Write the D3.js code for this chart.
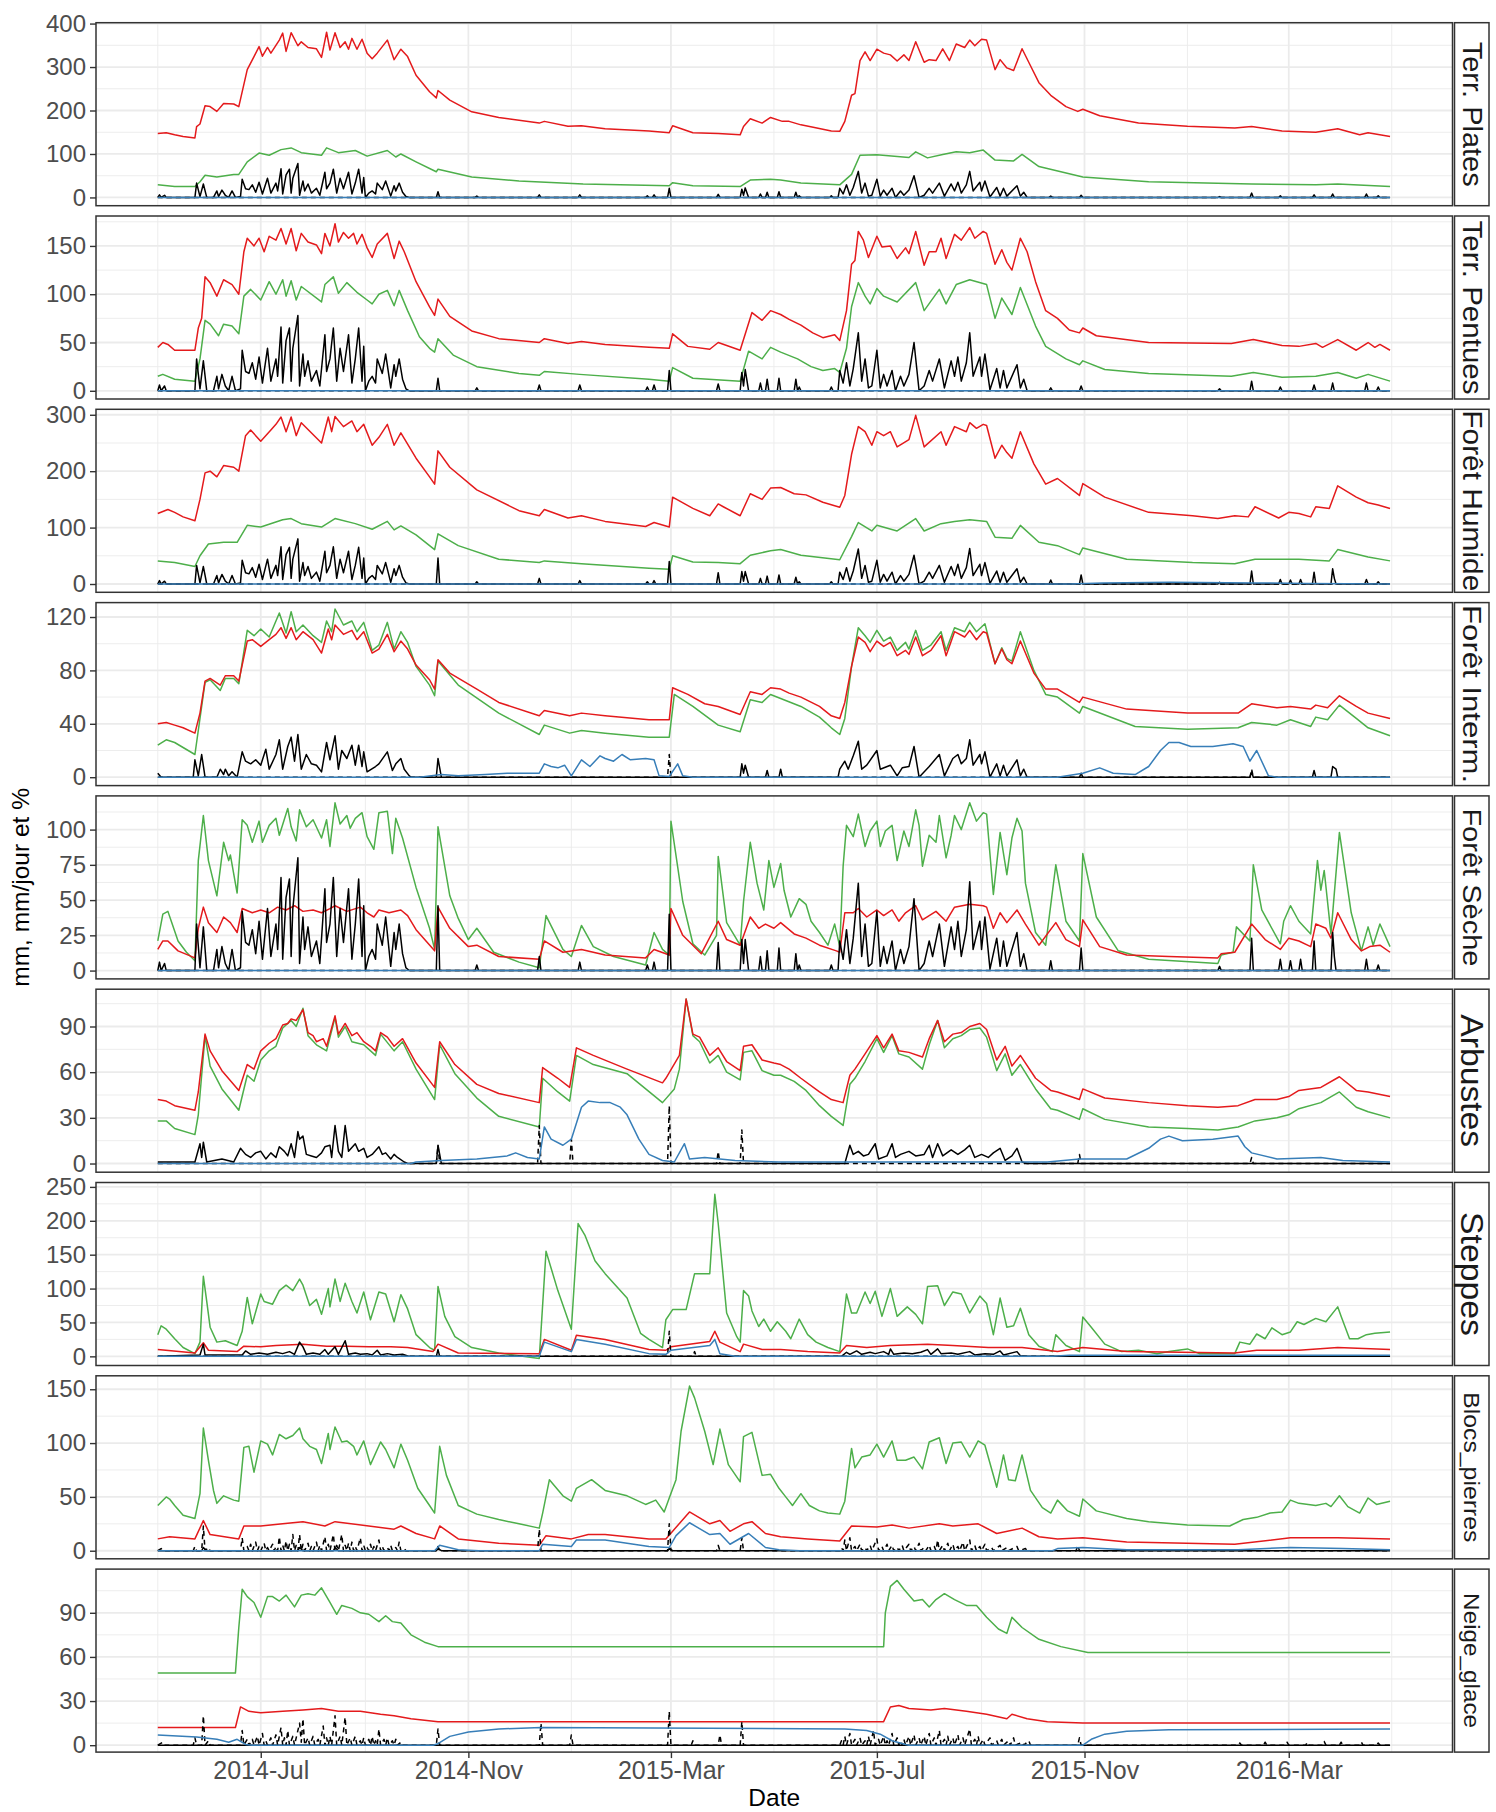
<!DOCTYPE html>
<html>
<head>
<meta charset="utf-8">
<script src="https://cdn.jsdelivr.net/npm/d3@7"></script>
<style>
body { margin: 0; background: #fff; }
text { font-family: "Liberation Sans", Arial, sans-serif; }
</style>
</head>
<body>
<div id="chart"></div>
<script>
// ---------- données (jour depuis le 2014-05-01, valeur) ----------
const facettes = ["Terr. Plates", "Terr. Pentues", "Forêt Humide", "Forêt Interm.", "Forêt Sèche", "Arbustes", "Steppes", "Blocs_pierres", "Neige_glace"]
const yTicks = [[0,100,200,300,400],[0,50,100,150],[0,100,200,300],[0,40,80,120],[0,25,50,75,100],[0,30,60,90],[0,50,100,150,200,250],[0,50,100,150],[0,30,60,90]]
const xTicks = ["2014-07-01","2014-11-01","2015-03-01","2015-07-01","2015-11-01","2016-03-01"]
const xMineurs = ["2014-05-01","2014-09-01","2015-01-01","2015-05-01","2015-09-01","2016-01-01","2016-05-01"]

const zero = [[0,0],[730,0]]

const pluie = [[0,0],[1,6],[2,0],[4,5],[5,0],[22,0],[23,33],[25,2],[27,31],[29,0],[33,0],[35,15],[36,2],[38,17],[40,5],[42,0],[44,15],[46,0],[49,2],[50,42],[52,20],[54,18],[56,29],[58,12],[60,35],[62,8],[65,44],[67,10],[70,33],[71,15],[73,66],[74,8],[76,52],[78,65],[79,10],[80,44],[83,78],[84,5],[86,38],[87,15],[89,31],[91,10],[94,21],[96,5],[99,58],[100,20],[102,33],[104,65],[106,10],[108,44],[110,20],[113,58],[115,8],[117,33],[119,65],[121,10],[122,46],[123,0],[125,10],[127,15],[129,8],[130,33],[133,18],[135,38],[138,3],[140,27],[141,15],[143,33],[145,12],[147,2],[149,0],[165,0],[166,13],[167,0],[188,0],[189,3],[190,0],[225,0],[226,6],[227,0],[249,0],[250,6],[251,0],[289,0],[290,4],[291,0],[293,0],[294,6],[295,0],[302,0],[303,21],[304,0],[331,0],[332,7],[333,0],[345,0],[346,19],[347,5],[348,22],[350,0],[356,0],[357,8],[358,0],[360,0],[361,12],[362,0],[367,0],[368,13],[369,0],[377,0],[378,12],[379,0],[380,4],[381,0],[398,0],[399,4],[400,0],[403,0],[404,21],[406,8],[408,29],[410,5],[412,23],[415,60],[417,10],[419,33],[421,3],[423,5],[426,42],[428,3],[430,17],[432,5],[435,21],[437,0],[440,15],[442,5],[445,17],[448,50],[451,0],[454,5],[457,21],[459,10],[463,33],[466,3],[470,31],[472,15],[474,35],[476,10],[479,29],[481,60],[483,15],[487,35],[488,15],[490,38],[493,1],[497,23],[499,3],[501,21],[503,3],[509,27],[511,3],[513,12],[515,0],[528,0],[529,3],[530,0],[546,0],[547,5],[548,0],[628,0],[629,2],[630,0],[647,0],[648,10],[649,0],[664,0],[665,4],[666,0],[684,0],[685,6],[686,0],[695,0],[696,8],[697,0],[715,0],[716,8],[717,0],[722,0],[723,4],[724,0],[730,0]]

const pluieForet = [[0,0],[1,6],[2,0],[4,5],[5,0],[22,0],[23,33],[25,2],[27,31],[29,0],[33,0],[35,15],[36,2],[38,17],[40,5],[42,0],[44,15],[46,0],[49,2],[50,42],[52,20],[54,18],[56,29],[58,12],[60,35],[62,8],[65,44],[67,10],[70,33],[71,15],[73,66],[74,8],[76,52],[78,65],[79,10],[80,44],[83,80],[84,5],[86,38],[87,15],[89,31],[91,10],[94,21],[96,5],[99,58],[100,20],[102,33],[104,66],[106,10],[108,44],[110,20],[113,58],[115,8],[117,33],[119,65],[121,10],[122,46],[123,0],[125,10],[127,15],[129,8],[130,33],[133,18],[135,38],[138,3],[140,27],[141,15],[143,33],[145,12],[147,2],[149,0],[165,0],[166,46],[167,0],[188,0],[189,4],[190,0],[225,0],[226,10],[227,0],[249,0],[250,6],[251,0],[289,0],[290,4],[291,0],[293,0],[294,6],[295,0],[302,0],[303,40],[304,0],[331,0],[332,20],[333,0],[345,0],[346,22],[347,5],[348,22],[350,0],[356,0],[357,10],[358,0],[360,0],[361,14],[362,0],[367,0],[368,16],[369,0],[377,0],[378,12],[379,0],[380,4],[381,0],[398,0],[399,4],[400,0],[403,0],[404,21],[406,8],[408,29],[410,5],[412,23],[415,62],[417,10],[419,33],[421,3],[423,5],[426,42],[428,3],[430,17],[432,5],[435,21],[437,0],[440,15],[442,5],[445,17],[448,51],[451,0],[454,5],[457,21],[459,10],[463,33],[466,3],[470,31],[472,15],[474,35],[476,10],[479,29],[481,63],[483,15],[487,35],[488,15],[490,38],[493,1],[497,23],[499,3],[501,21],[503,3],[509,27],[511,3],[513,12],[515,0],[528,0],[529,7],[530,0],[546,0],[547,16],[548,0],[628,0],[629,3],[630,0],[647,0],[648,23],[649,0],[664,0],[665,8],[666,0],[670,0],[671,7],[672,0],[676,0],[677,8],[678,0],[684,0],[685,21],[686,0],[695,0],[696,27],[697,10],[698,0],[715,0],[716,8],[717,0],[722,0],[723,4],[724,0],[730,0]]

const platesRouge = [[0,147],[5,149],[10,144],[15,140],[22,137],[23,163],[25,169],[28,211],[31,209],[35,198],[39,216],[45,215],[48,209],[53,294],[57,324],[60,347],[62,325],[65,345],[67,332],[72,362],[74,378],[76,336],[79,379],[83,349],[85,358],[89,345],[94,342],[97,322],[100,380],[102,339],[105,379],[108,345],[111,358],[113,341],[115,366],[118,341],[121,364],[124,332],[127,319],[130,332],[136,362],[140,317],[144,341],[148,324],[153,281],[161,243],[165,229],[166,246],[173,224],[186,197],[202,184],[226,171],[229,175],[243,164],[251,165],[265,158],[291,153],[303,149],[305,165],[317,149],[332,147],[345,144],[347,163],[351,181],[358,171],[363,184],[370,175],[374,175],[381,167],[389,161],[399,153],[404,152],[407,175],[411,235],[413,239],[416,315],[419,335],[422,315],[426,341],[430,332],[434,328],[438,314],[442,328],[445,315],[449,358],[454,311],[457,317],[461,315],[465,342],[469,315],[473,353],[478,345],[481,362],[484,349],[488,364],[491,362],[496,294],[499,317],[503,298],[507,292],[512,342],[517,303],[522,264],[529,235],[538,209],[545,198],[548,203],[558,188],[581,171],[610,164],[638,160],[648,163],[666,153],[686,150],[699,158],[712,144],[717,149],[730,140]]
const platesVert = [[0,29],[10,25],[22,25],[25,36],[28,51],[35,47],[45,53],[48,53],[53,82],[60,102],[66,97],[73,110],[79,114],[85,103],[97,97],[100,114],[107,103],[117,108],[124,95],[136,108],[141,93],[144,100],[153,82],[165,59],[166,65],[186,47],[214,38],[252,31],[303,27],[305,34],[317,27],[345,25],[351,40],[363,42],[369,40],[381,33],[404,29],[411,53],[416,97],[426,98],[445,92],[449,105],[456,91],[465,99],[473,105],[481,103],[489,109],[496,86],[507,84],[512,99],[522,71],[548,47],[587,36],[648,31],[686,29],[699,31],[730,25]]

const pentuesRouge = [[0,45],[3,50],[6,48],[10,42],[22,42],[24,65],[26,75],[28,118],[31,112],[35,98],[39,115],[44,110],[48,100],[51,144],[53,158],[57,150],[60,158],[63,144],[66,160],[70,156],[73,168],[76,152],[79,168],[82,145],[85,163],[89,154],[94,151],[97,142],[99,163],[102,150],[105,173],[107,154],[110,164],[113,158],[116,163],[118,152],[121,162],[124,148],[127,138],[130,152],[136,163],[140,137],[143,155],[146,144],[153,113],[161,87],[164,78],[166,95],[173,77],[186,62],[202,54],[226,50],[229,54],[243,49],[251,51],[265,48],[291,45],[303,44],[305,59],[314,46],[327,43],[332,50],[345,42],[352,81],[358,73],[363,83],[369,79],[374,74],[381,68],[388,60],[394,55],[401,58],[404,52],[408,83],[411,131],[413,135],[415,165],[418,156],[421,138],[426,160],[429,149],[434,150],[438,137],[443,148],[445,142],[449,165],[454,130],[457,144],[461,144],[464,158],[467,137],[472,162],[476,156],[481,169],[484,158],[489,165],[491,163],[496,131],[500,146],[503,133],[506,125],[511,158],[515,144],[520,113],[526,83],[533,75],[540,63],[546,60],[548,65],[556,57],[587,50],[636,49],[649,53],[666,47],[676,46],[686,49],[690,45],[699,53],[710,42],[717,50],[721,45],[724,48],[730,42]]
const pentuesVert = [[0,15],[3,17],[10,12],[22,10],[25,33],[28,73],[31,69],[36,57],[39,69],[44,67],[48,59],[51,98],[55,105],[61,94],[66,113],[70,100],[74,115],[76,98],[79,114],[82,94],[85,108],[97,92],[99,110],[104,118],[107,101],[112,112],[118,102],[124,94],[127,90],[131,100],[136,104],[140,88],[143,104],[148,83],[155,56],[161,44],[164,40],[166,54],[175,37],[189,25],[214,18],[226,16],[229,20],[250,17],[291,12],[303,10],[305,24],[317,13],[345,10],[350,41],[358,33],[363,45],[369,40],[379,33],[387,25],[394,21],[401,23],[404,19],[408,44],[411,87],[415,112],[419,98],[422,90],[426,106],[430,98],[438,92],[449,112],[454,83],[463,105],[467,90],[473,110],[481,115],[491,110],[496,75],[500,96],[506,79],[511,107],[520,67],[526,46],[538,33],[546,27],[548,31],[561,22],[587,18],[636,15],[649,19],[666,14],[686,15],[699,19],[710,13],[717,17],[730,10]]

const humideRouge = [[0,125],[6,132],[10,127],[15,119],[22,112],[25,150],[28,197],[31,200],[35,190],[39,210],[45,207],[48,200],[52,263],[55,273],[61,253],[67,273],[70,283],[73,296],[76,270],[79,296],[82,263],[85,286],[97,250],[101,296],[103,270],[105,297],[110,279],[115,289],[118,270],[122,283],[127,246],[131,260],[136,283],[140,246],[144,268],[153,223],[161,190],[164,177],[166,236],[173,207],[189,167],[214,130],[226,121],[229,132],[243,117],[251,121],[265,111],[289,102],[294,109],[303,101],[305,154],[317,134],[327,121],[332,142],[335,137],[345,121],[351,160],[358,150],[363,170],[369,171],[377,160],[384,158],[394,145],[404,136],[407,157],[411,230],[415,279],[419,270],[423,246],[426,270],[430,263],[434,270],[438,243],[445,256],[449,299],[454,243],[464,270],[467,246],[472,279],[479,270],[481,286],[485,276],[489,283],[491,281],[496,223],[500,246],[503,233],[506,223],[511,270],[519,213],[526,177],[533,187],[546,157],[548,178],[561,154],[587,127],[613,121],[628,116],[638,121],[646,119],[650,137],[664,117],[670,127],[676,125],[683,119],[686,137],[694,134],[699,174],[710,154],[717,144],[723,140],[730,134]]
const humideVert = [[0,41],[10,38],[22,31],[25,50],[30,71],[39,74],[47,74],[53,104],[61,101],[74,114],[79,116],[85,107],[97,101],[105,116],[117,107],[127,97],[136,111],[140,96],[144,103],[153,87],[164,61],[166,89],[178,68],[202,44],[226,38],[229,41],[251,36],[291,28],[303,26],[305,50],[317,39],[332,38],[345,36],[351,51],[363,59],[369,61],[381,51],[404,43],[411,84],[415,109],[423,94],[426,104],[438,94],[449,116],[454,94],[464,107],[472,111],[481,114],[491,111],[496,83],[506,81],[511,104],[522,74],[533,68],[546,52],[548,64],[574,44],[613,38],[638,36],[650,44],[676,44],[694,41],[699,61],[717,48],[730,41]]
const humideBleu = [[0,0],[540,0],[560,2],[600,3],[650,2],[680,1],[730,0]]

const intermRouge = [[0,40],[5,41],[10,39],[15,37],[22,33],[25,48],[28,72],[31,74],[37,69],[40,76],[45,76],[48,72],[53,102],[56,103],[61,98],[66,103],[70,107],[73,112],[76,104],[79,112],[82,103],[86,109],[92,103],[97,93],[101,111],[103,103],[105,114],[110,107],[115,110],[118,103],[122,109],[127,93],[131,96],[136,107],[140,94],[144,102],[148,96],[153,84],[161,73],[164,66],[166,88],[173,78],[189,66],[202,56],[226,46],[229,50],[244,46],[251,48],[265,46],[291,43],[303,43],[305,67],[314,62],[324,55],[332,53],[345,47],[351,64],[358,62],[363,67],[369,66],[374,63],[381,60],[392,53],[399,46],[404,44],[407,56],[411,83],[415,105],[419,101],[422,94],[426,102],[430,98],[434,101],[438,91],[443,95],[445,92],[449,105],[453,91],[458,95],[464,106],[467,91],[472,109],[478,105],[481,110],[485,103],[489,109],[491,108],[496,85],[500,96],[503,88],[506,85],[511,102],[519,78],[526,66],[533,66],[546,56],[548,60],[574,51],[610,48],[640,48],[648,55],[663,52],[671,53],[683,51],[686,54],[693,52],[700,61],[710,53],[717,48],[730,44]]
const intermVert = [[0,24],[5,28],[10,26],[22,17],[28,71],[31,73],[37,65],[40,74],[45,74],[48,70],[53,110],[57,106],[61,111],[66,105],[72,123],[76,108],[79,124],[82,109],[86,114],[92,106],[97,101],[100,117],[103,109],[105,126],[110,114],[115,117],[118,109],[122,116],[127,95],[131,99],[136,116],[140,96],[144,109],[148,101],[153,83],[161,69],[164,61],[166,87],[178,69],[202,48],[226,32],[229,39],[244,33],[251,35],[265,33],[291,30],[303,30],[306,62],[317,53],[332,39],[345,34],[351,58],[358,56],[363,62],[369,59],[381,53],[392,45],[399,37],[404,32],[407,44],[411,83],[415,112],[419,106],[422,101],[426,110],[430,102],[434,105],[438,95],[443,101],[445,96],[449,110],[453,95],[458,99],[464,109],[467,95],[472,112],[478,109],[481,116],[485,109],[490,115],[496,85],[500,97],[503,89],[506,87],[511,109],[519,80],[526,62],[533,60],[546,48],[548,53],[579,38],[610,36],[640,37],[648,41],[663,39],[671,43],[683,38],[686,45],[693,43],[700,54],[710,44],[717,37],[730,31]]
const intermBleu = [[0,0],[155,0],[168,2],[178,1],[194,2],[207,3],[226,3],[229,10],[233,8],[237,7],[241,9],[245,1],[251,13],[256,8],[262,16],[265,14],[270,12],[275,17],[280,13],[289,14],[294,13],[297,1],[303,0.5],[308,10],[311,1],[317,0],[533,0],[548,3],[558,7],[566,3],[579,2],[587,8],[594,20],[599,26],[605,26],[612,23],[625,23],[637,25],[643,23],[647,12],[651,20],[658,1],[663,0],[730,0]]
const intermNoir = [[0,3],[2,0],[21,0],[22,13],[24,1],[26,17],[28,0],[35,0],[37,6],[39,2],[40,6],[42,1],[44,4],[47,0],[50,19],[52,12],[55,10],[58,13],[61,9],[64,21],[66,6],[70,17],[72,28],[74,6],[77,23],[79,30],[81,12],[83,32],[85,6],[88,17],[91,10],[94,9],[97,4],[100,26],[102,13],[105,31],[107,6],[109,20],[112,14],[115,24],[117,9],[119,24],[121,8],[122,19],[124,4],[129,8],[131,10],[136,19],[139,5],[141,10],[144,14],[146,6],[149,1],[150,0],[165,0],[166,14],[168,0],[345,0],[346,10],[347,3],[348,9],[350,0],[360,0],[361,5],[362,0],[368,0],[369,6],[370,0],[403,0],[404,6],[407,12],[409,6],[412,16],[415,27],[417,6],[420,9],[426,20],[428,6],[434,9],[438,1],[441,7],[445,8],[448,23],[451,0],[457,8],[463,17],[466,1],[471,14],[474,17],[476,10],[479,14],[481,28],[483,9],[487,17],[488,10],[490,19],[493,0],[497,10],[499,1],[501,9],[503,1],[509,13],[511,1],[513,6],[515,0],[546,0],[547,3],[548,0],[647,0],[648,4],[649,0],[684,0],[685,5],[686,0],[695,0],[696,8],[698,6],[699,0],[730,0]]
const intermTirets = [[0,0],[302,0],[303,17],[304,0],[647,0],[648,6],[649,0],[730,0]]

const secheRouge = [[0,15],[3,21],[6,21],[12,14],[22,9],[24,30],[27,45],[30,34],[35,27],[39,38],[43,34],[47,27],[50,44],[56,41],[61,43],[66,41],[71,45],[76,43],[81,46],[86,42],[92,43],[97,41],[102,44],[105,46],[112,42],[120,45],[124,41],[128,38],[131,43],[137,41],[144,43],[148,39],[153,29],[164,14],[166,45],[173,30],[184,17],[189,18],[202,10],[226,8],[229,21],[240,13],[251,15],[265,11],[289,9],[294,15],[303,11],[304,44],[311,25],[322,12],[332,35],[337,22],[345,18],[351,38],[356,30],[360,33],[365,30],[369,34],[377,26],[384,23],[392,18],[402,14],[404,13],[407,41],[412,41],[415,44],[420,38],[426,43],[430,39],[435,43],[439,35],[443,41],[449,46],[453,36],[461,42],[467,35],[472,45],[481,47],[489,46],[491,45],[495,30],[499,41],[503,34],[509,43],[514,33],[522,18],[532,34],[538,22],[546,17],[548,36],[558,17],[574,11],[599,10],[628,9],[630,12],[638,13],[648,33],[656,22],[665,15],[670,23],[676,21],[683,17],[686,33],[692,30],[695,23],[699,41],[707,22],[713,14],[718,17],[724,18],[730,13]]
const secheVert = [[0,21],[3,40],[6,42],[8,35],[12,21],[17,13],[22,7],[24,78],[27,110],[30,78],[35,53],[39,91],[42,78],[43,82],[47,55],[50,107],[53,103],[56,91],[60,106],[62,91],[66,103],[70,108],[72,96],[77,115],[79,102],[82,92],[84,114],[88,102],[92,107],[97,94],[100,107],[102,88],[105,119],[108,104],[112,110],[114,101],[117,108],[121,112],[124,95],[128,86],[131,112],[136,113],[139,83],[141,108],[145,94],[153,59],[161,30],[164,15],[166,102],[173,53],[178,37],[184,22],[189,30],[199,13],[214,6],[226,2],[230,39],[240,15],[245,10],[251,32],[258,17],[270,10],[289,4],[294,27],[299,15],[303,11],[304,106],[311,49],[317,19],[324,11],[331,25],[332,81],[337,34],[345,18],[347,49],[351,91],[355,62],[359,43],[362,78],[365,59],[369,76],[371,57],[375,38],[380,51],[384,47],[387,35],[392,27],[397,18],[401,33],[404,17],[406,74],[408,103],[412,95],[415,111],[419,88],[422,99],[426,106],[428,88],[431,99],[435,103],[438,78],[442,99],[445,88],[449,114],[451,103],[453,74],[457,96],[461,91],[463,110],[467,80],[470,96],[472,110],[476,100],[481,119],[485,106],[489,112],[491,111],[495,54],[499,98],[503,68],[506,94],[509,108],[512,99],[514,62],[520,27],[526,18],[532,75],[538,35],[546,21],[548,83],[556,38],[569,14],[587,8],[628,5],[630,11],[637,13],[639,31],[647,21],[649,75],[654,43],[665,19],[667,35],[671,46],[676,35],[683,26],[687,78],[689,57],[691,71],[695,26],[700,98],[707,41],[713,14],[717,31],[720,18],[724,33],[730,17]]

const arbRouge = [[0,42],[5,41],[10,38],[22,35],[24,47],[28,85],[31,74],[38,61],[48,48],[53,65],[57,62],[61,74],[66,79],[70,82],[74,91],[77,92],[79,95],[82,94],[86,101],[89,86],[92,84],[94,80],[98,82],[100,77],[105,97],[107,85],[111,92],[115,84],[118,86],[122,80],[126,77],[129,74],[132,86],[136,83],[140,77],[145,82],[153,66],[164,50],[167,80],[176,65],[189,52],[202,46],[226,40],[228,63],[237,56],[244,50],[248,76],[258,71],[278,62],[299,53],[301,56],[309,71],[313,108],[317,85],[321,83],[327,71],[332,76],[337,67],[345,61],[347,77],[352,78],[358,68],[365,66],[369,65],[374,62],[381,56],[392,47],[399,42],[406,40],[410,58],[413,62],[419,72],[426,84],[430,76],[435,85],[439,74],[445,73],[453,70],[457,82],[462,94],[466,80],[471,85],[476,86],[481,90],[487,92],[491,88],[497,68],[502,77],[506,64],[511,71],[520,56],[529,48],[533,47],[546,42],[548,49],[561,43],[587,40],[610,38],[628,37],[640,38],[650,42],[663,42],[670,44],[676,48],[689,50],[700,57],[710,48],[717,47],[730,44]]
const arbVert = [[0,28],[5,28],[10,23],[22,19],[24,32],[28,84],[31,64],[38,49],[48,35],[53,58],[57,54],[61,68],[66,74],[70,77],[74,89],[79,94],[82,90],[86,102],[89,84],[94,78],[100,74],[105,96],[107,83],[111,90],[115,80],[122,78],[129,71],[132,85],[140,74],[145,80],[153,62],[164,42],[167,78],[176,59],[189,43],[202,31],[226,24],[228,56],[237,47],[244,41],[248,71],[258,65],[278,59],[299,40],[306,49],[309,62],[313,108],[317,84],[321,80],[327,66],[332,71],[337,60],[345,55],[347,73],[352,74],[358,61],[365,58],[369,58],[377,54],[384,48],[392,38],[399,31],[406,25],[410,52],[413,56],[419,67],[426,82],[430,73],[435,84],[439,72],[445,70],[453,62],[457,78],[462,94],[466,76],[471,82],[476,84],[481,88],[487,89],[491,83],[497,61],[502,72],[506,58],[511,65],[520,49],[529,36],[533,35],[546,29],[548,36],[561,29],[587,24],[610,23],[628,22],[640,24],[650,28],[663,30],[670,32],[676,36],[689,40],[700,47],[710,37],[717,34],[730,30]]
const arbBleu = [[0,0],[150,0],[153,1],[168,2],[189,3],[207,5],[212,7],[219,4],[226,3],[229,24],[233,16],[240,12],[245,16],[251,37],[255,41],[262,40],[268,40],[274,37],[278,32],[285,16],[291,6],[299,2],[306,1],[312,13],[315,3],[324,4],[342,2],[368,1],[527,1],[546,3],[574,3],[587,10],[594,16],[599,18],[607,15],[625,16],[640,18],[644,11],[648,7],[663,3],[689,4],[702,2],[730,1]]
const arbNoir = [[0,1],[22,1],[25,13],[26,4],[27,14],[29,1],[38,3],[45,1],[49,10],[52,6],[55,4],[58,7],[61,8],[64,3],[67,7],[70,4],[72,11],[75,8],[77,5],[79,13],[81,4],[83,21],[84,16],[86,18],[88,6],[91,5],[94,4],[97,7],[99,11],[102,12],[103,4],[105,25],[107,8],[109,4],[111,25],[113,8],[117,13],[119,8],[122,10],[124,4],[127,6],[131,11],[133,6],[135,7],[138,3],[140,6],[142,4],[146,1],[148,0],[165,0],[166,12],[168,0],[407,0],[410,12],[412,6],[415,8],[418,5],[421,6],[425,13],[427,3],[432,5],[435,13],[437,4],[440,6],[445,8],[449,5],[454,6],[457,12],[459,4],[462,13],[465,5],[470,9],[474,6],[478,9],[481,12],[484,4],[488,6],[492,4],[495,7],[499,10],[502,2],[506,5],[509,10],[512,1],[515,0],[730,0]]
const arbTirets = [[0,0],[165,0],[166,12],[167,0],[225,0],[226,25],[227,0],[244,0],[245,16],[246,0],[302,0],[303,38],[304,0],[331,0],[332,8],[333,0],[345,0],[346,22],[347,0],[545,0],[546,6],[547,0],[647,0],[648,4],[649,0],[730,0]]

const stepRouge = [[0,10],[22,5],[27,20],[30,9],[47,7],[51,15],[61,14],[70,16],[86,18],[100,15],[112,15],[125,14],[138,14],[148,13],[163,7],[166,18],[178,5],[226,4],[229,25],[245,9],[248,31],[265,25],[291,10],[301,9],[304,14],[327,22],[330,37],[333,21],[345,7],[347,18],[358,10],[369,10],[385,7],[404,5],[408,16],[420,13],[434,16],[456,18],[471,16],[492,13],[512,13],[533,7],[548,13],[574,7],[638,5],[651,9],[676,9],[699,13],[730,10]]
const stepVert = [[0,32],[2,45],[5,40],[10,26],[15,13],[22,4],[25,21],[27,118],[29,81],[31,43],[35,21],[40,23],[47,16],[50,37],[53,87],[56,48],[61,92],[63,81],[68,77],[72,97],[76,105],[80,97],[84,114],[86,105],[90,75],[94,84],[97,62],[101,100],[102,73],[105,114],[108,81],[111,108],[115,81],[118,64],[122,95],[126,54],[131,95],[135,92],[140,51],[144,91],[148,70],[153,32],[161,13],[164,9],[166,103],[170,59],[176,29],[186,13],[202,5],[214,1],[226,-3],[230,155],[237,97],[245,40],[249,196],[253,179],[259,141],[265,122],[278,86],[286,34],[291,25],[299,13],[301,54],[305,69],[313,69],[318,122],[327,122],[330,239],[332,196],[337,64],[343,29],[345,21],[347,97],[350,89],[352,67],[356,44],[359,55],[363,37],[367,51],[372,37],[375,26],[380,55],[385,32],[390,21],[397,13],[404,7],[408,92],[411,64],[414,64],[419,95],[422,78],[425,96],[429,59],[434,100],[438,59],[444,73],[449,62],[453,48],[456,103],[462,104],[466,75],[471,95],[476,92],[481,64],[487,89],[491,78],[495,32],[499,86],[503,43],[507,45],[511,71],[516,32],[522,15],[530,7],[532,32],[538,16],[546,7],[548,58],[553,43],[561,18],[571,7],[581,9],[592,4],[599,7],[610,11],[617,4],[638,4],[641,21],[647,18],[651,33],[656,26],[660,42],[666,32],[671,36],[675,51],[679,47],[686,56],[692,51],[699,73],[701,59],[706,26],[711,26],[716,32],[721,34],[730,36]]
const stepBleu = [[0,0],[226,0],[229,21],[245,7],[248,25],[265,18],[291,4],[301,3],[304,9],[327,16],[330,25],[333,4],[342,0],[530,0],[540,1.5],[730,1.5]]
const stepNoir = [[0,0],[25,2],[27,18],[28,2],[50,2],[52,8],[55,3],[60,5],[65,3],[70,6],[74,4],[78,7],[81,3],[84,21],[86,14],[88,3],[92,5],[96,3],[99,10],[101,3],[105,14],[107,3],[111,23],[113,3],[117,5],[120,3],[124,4],[127,2],[130,9],[132,2],[136,4],[140,2],[145,3],[149,0],[165,0],[166,10],[167,0],[405,0],[408,6],[410,3],[414,8],[417,3],[422,6],[425,4],[430,7],[433,3],[434,11],[436,3],[442,5],[447,4],[452,6],[456,10],[458,3],[462,11],[464,4],[470,5],[474,3],[481,7],[484,2],[490,4],[495,3],[499,8],[501,2],[509,7],[511,1],[515,0],[730,0]]
const stepTirets = [[0,0],[302,0],[303,37],[304,0],[317,0],[318,7],[319,0],[730,0]]

const blocsRouge = [[0,11],[7,13],[22,11],[27,28],[31,15],[48,11],[51,23],[61,23],[74,25],[86,27],[99,23],[105,27],[125,23],[140,20],[144,23],[153,16],[164,11],[167,23],[178,11],[202,7],[226,5],[230,14],[245,11],[255,15],[265,15],[291,11],[301,11],[315,36],[327,25],[333,28],[339,18],[347,25],[352,27],[360,16],[369,13],[385,11],[404,9],[411,23],[426,22],[435,24],[445,21],[463,25],[471,23],[486,25],[497,16],[512,21],[522,13],[533,11],[548,12],[574,8],[638,6],[671,12],[699,12],[730,11]]
const blocsVert = [[0,42],[5,50],[7,48],[10,42],[15,33],[22,30],[25,53],[27,114],[30,84],[33,56],[35,44],[39,51],[45,47],[48,46],[51,96],[54,97],[57,73],[61,102],[65,99],[68,89],[72,108],[76,104],[80,107],[84,114],[86,104],[90,97],[94,94],[97,81],[101,109],[102,94],[105,115],[109,101],[112,102],[116,97],[118,89],[122,102],[126,80],[132,101],[135,94],[140,77],[144,99],[148,84],[154,58],[161,42],[164,35],[167,97],[171,70],[178,42],[189,34],[202,29],[214,25],[226,21],[228,35],[232,66],[240,51],[245,46],[248,58],[257,66],[265,56],[278,51],[289,43],[295,47],[300,36],[303,49],[307,66],[310,111],[315,153],[318,142],[324,111],[329,80],[333,113],[338,80],[345,64],[347,106],[352,110],[358,70],[363,71],[368,58],[372,50],[376,42],[381,53],[386,42],[392,37],[397,35],[404,34],[407,46],[411,95],[413,77],[417,87],[422,89],[426,99],[430,87],[435,102],[438,84],[443,84],[448,87],[453,76],[457,101],[463,105],[467,81],[471,100],[476,101],[481,87],[486,102],[490,98],[497,59],[501,89],[504,66],[508,65],[512,89],[517,56],[524,40],[529,35],[533,47],[539,37],[546,32],[548,48],[556,37],[574,30],[587,27],[610,24],[635,23],[643,29],[651,31],[659,35],[666,36],[671,47],[676,44],[686,42],[692,44],[695,41],[700,51],[705,41],[712,35],[717,49],[722,43],[730,46]]
const blocsBleu = [[0,0],[164,0],[167,5],[178,1],[190,0],[226,0],[228,6],[245,4],[248,10],[265,10],[291,4],[303,3],[307,14],[315,26],[327,15],[333,16],[339,6],[350,16],[360,3],[368,1],[380,0],[530,0],[533,2],[548,3],[574,1],[640,1],[671,3],[702,2],[730,1]]
const blocsNoir = [[0,0],[26,0],[27,3],[29,0],[83,0],[84,3],[86,0],[104,0],[105,3],[107,0],[165,0],[166,2],[168,0],[302,0],[303,2],[305,0],[730,0]]
const blocsTirets = [[0,0],[2,2],[3,0],[21,0],[22,4],[23,0],[26,0],[27,23],[28,0],[30,3],[31,0],[49,0],[50,12],[51,0],[53,4],[54,0],[55,6],[56,0],[58,8],[59,0],[60,4],[61,0],[63,7],[64,0],[65,3],[66,0],[68,6],[69,0],[70,4],[71,0],[72,13],[73,0],[74,5],[75,0],[76,9],[77,0],[78,6],[79,0],[80,15],[81,0],[82,5],[83,0],[84,15],[85,0],[86,6],[87,0],[89,7],[90,0],[91,4],[92,0],[94,8],[95,0],[96,5],[97,0],[99,13],[100,0],[101,6],[102,0],[104,15],[105,0],[106,5],[107,0],[109,15],[110,0],[111,5],[112,0],[113,7],[114,0],[115,8],[116,0],[117,4],[118,0],[120,12],[121,0],[122,5],[123,0],[124,3],[125,0],[126,6],[127,0],[128,4],[129,0],[131,10],[132,0],[133,4],[134,0],[136,3],[137,0],[138,5],[139,0],[141,3],[142,0],[143,8],[144,0],[146,2],[147,0],[165,0],[166,4],[167,0],[225,0],[226,20],[227,0],[302,0],[303,25],[304,0],[331,0],[332,5],[333,0],[345,0],[346,12],[347,0],[404,0],[405,3],[406,0],[407,10],[408,0],[410,12],[411,0],[413,4],[414,0],[416,6],[417,0],[419,3],[420,0],[422,5],[423,0],[426,11],[427,0],[429,4],[430,0],[432,6],[433,0],[435,5],[436,0],[438,3],[439,0],[441,5],[442,0],[445,6],[446,0],[448,4],[449,0],[451,7],[452,0],[454,3],[455,0],[457,5],[458,0],[460,4],[461,0],[462,10],[463,0],[465,5],[466,0],[468,7],[469,0],[471,6],[472,0],[474,4],[475,0],[477,8],[478,0],[481,10],[482,0],[484,5],[485,0],[487,4],[488,0],[490,6],[491,0],[494,3],[495,0],[499,5],[500,0],[503,3],[504,0],[509,4],[510,0],[514,2],[515,0],[544,0],[545,5],[546,0],[730,0]]

const neigeRouge = [[0,12],[46,12],[49,26],[54,23],[61,22],[74,23],[86,24],[97,25],[107,23],[120,23],[132,21],[140,20],[150,18],[166,16],[430,16],[434,26],[439,27],[445,25],[458,24],[466,25],[479,23],[491,21],[503,18],[506,21],[515,18],[527,16],[548,15],[730,15]]
const neigeVert = [[0,49],[46,49],[48,80],[50,106],[53,101],[57,97],[61,87],[65,101],[68,101],[72,98],[76,102],[81,94],[85,102],[89,103],[93,102],[97,107],[102,97],[106,89],[109,95],[115,93],[120,90],[125,89],[131,84],[135,88],[139,84],[144,83],[150,75],[158,70],[166,67],[430,67],[431,90],[434,108],[438,112],[442,106],[448,98],[453,99],[457,94],[461,99],[466,103],[472,99],[479,95],[485,95],[491,87],[498,79],[503,76],[506,87],[512,80],[522,72],[535,67],[551,63],[730,63]]
const neigeBleu = [[0,7],[23,5.5],[35,4],[42,2],[47,4],[52,0.5],[56,0],[163,0],[166,1],[173,6],[184,9],[202,11],[227,12],[407,11],[420,10],[428,7.5],[435,3],[443,0.5],[445,0],[548,0],[553,4],[561,7.5],[574,9.5],[599,10.5],[730,11]]
const neigeTirets = [[0,0],[3,2],[4,0],[21,0],[22,5],[23,0],[26,0],[27,20],[28,0],[30,3],[31,0],[49,0],[50,10],[51,0],[53,4],[54,0],[56,4],[57,0],[59,6],[60,0],[62,8],[63,0],[64,3],[65,0],[67,5],[68,0],[70,7],[71,0],[73,12],[74,0],[75,5],[76,0],[77,10],[78,0],[80,6],[81,0],[84,15],[85,2],[86,18],[87,0],[89,5],[90,0],[92,6],[93,0],[95,4],[96,0],[98,13],[99,0],[100,5],[101,0],[102,6],[103,0],[105,20],[106,0],[108,6],[109,0],[111,19],[112,0],[114,5],[115,0],[117,6],[118,0],[120,3],[121,0],[122,5],[123,0],[125,4],[126,0],[127,6],[128,0],[129,3],[130,0],[131,11],[132,0],[134,4],[135,0],[136,5],[137,0],[139,3],[140,0],[141,4],[142,0],[144,2],[145,0],[165,0],[166,11],[167,0],[226,0],[227,15],[228,0],[244,0],[245,7],[246,0],[302,0],[303,23],[304,0],[316,0],[317,3],[318,0],[332,0],[333,7],[334,0],[345,0],[346,16],[347,0],[404,0],[405,3],[406,0],[407,6],[408,0],[410,8],[411,0],[413,4],[414,0],[416,5],[417,0],[419,3],[420,0],[421,6],[422,0],[424,10],[425,0],[427,4],[428,0],[430,6],[431,0],[432,3],[433,0],[435,8],[436,0],[438,5],[439,0],[440,3],[441,0],[442,4],[443,0],[445,6],[446,0],[448,7],[449,0],[451,5],[452,0],[454,6],[455,0],[457,8],[458,0],[460,5],[461,0],[463,10],[464,0],[466,4],[467,0],[468,6],[469,0],[471,5],[472,0],[474,7],[475,0],[477,5],[478,0],[481,11],[482,0],[484,4],[485,0],[486,6],[487,0],[489,4],[490,0],[493,5],[494,0],[497,3],[498,0],[500,4],[501,0],[504,3],[505,0],[507,5],[508,0],[512,2],[513,0],[516,3],[517,0],[545,0],[546,5],[547,0],[640,0],[641,1.5],[642,0],[655,0],[656,2],[657,0],[668,0],[669,2],[670,0],[680,0],[681,2],[682,0],[690,0],[691,2.5],[692,0],[700,0],[701,2],[702,0],[712,0],[713,2],[714,0],[722,0],[723,1.5],[724,0],[730,0]]

// ---------- mise en page ----------
const width = 1496
const height = 1812
const left = 96, right = 1452.5
const top0 = 22.7, pasPanneau = 193.3, hauteurPanneau = 183
const yDomaines = [[-19,402],[-8.5,181],[-14.7,309.7],[-6.3,130.8],[-5.9,123.9],[-5.7,114.5],[-13.5,256.5],[-7.5,162.5],[-4.7,119.7]]
const stripTaille = [27,27,27,26,26,31,31,22,22]
const stripLong = [145,174,181,178,158,133,124,150,135]
const couleurs = {rouge: "#e41a1c", vert: "#4daf4a", bleu: "#377eb8", noir: "#000000"}

const panneaux = [
    {rouge: platesRouge, vert: platesVert, noir: pluie, tirets: zero, bleu: zero},
    {rouge: pentuesRouge, vert: pentuesVert, noir: pluie, tirets: zero, bleu: zero},
    {rouge: humideRouge, vert: humideVert, noir: pluieForet, tirets: zero, bleu: humideBleu},
    {rouge: intermRouge, vert: intermVert, noir: intermNoir, tirets: intermTirets, bleu: intermBleu},
    {rouge: secheRouge, vert: secheVert, noir: pluieForet, tirets: zero, bleu: zero},
    {rouge: arbRouge, vert: arbVert, noir: arbNoir, tirets: arbTirets, bleu: arbBleu},
    {rouge: stepRouge, vert: stepVert, noir: stepNoir, tirets: stepTirets, bleu: stepBleu},
    {rouge: blocsRouge, vert: blocsVert, noir: blocsNoir, tirets: blocsTirets, bleu: blocsBleu},
    {rouge: neigeRouge, vert: neigeVert, noir: zero, tirets: neigeTirets, bleu: neigeBleu}
]

const debut = Date.UTC(2014, 4, 1)
const jour = d => new Date(debut + d * 864e5)

const svg = d3.select("#chart").append("svg").attr("width", width).attr("height", height)
svg.append("rect").attr("width", width).attr("height", height).attr("fill", "#fff")

const x = d3.scaleUtc().domain([jour(-36.6), jour(767)]).range([left, right])
const majeursX = xTicks.map(t => new Date(t))
const mineursX = xMineurs.map(t => new Date(t))

facettes.forEach((nom, i) => {
    const haut = top0 + i * pasPanneau
    const bas = haut + hauteurPanneau
    const y = d3.scaleLinear().domain(yDomaines[i]).range([bas, haut])
    const g = svg.append("g").attr("class", "panneau")

    // grille
    const pas = yTicks[i][1] - yTicks[i][0]
    const mineursY = d3.range(-pas / 2, yDomaines[i][1], pas).filter(v => v > yDomaines[i][0])
    g.selectAll("line.minY").data(mineursY).join("line").attr("class", "minY")
        .attr("x1", left).attr("x2", right).attr("y1", d => y(d)).attr("y2", d => y(d))
        .attr("stroke", "#ebebeb").attr("stroke-width", 0.9)
    g.selectAll("line.minX").data(mineursX).join("line").attr("class", "minX")
        .attr("x1", d => x(d)).attr("x2", d => x(d)).attr("y1", haut).attr("y2", bas)
        .attr("stroke", "#ebebeb").attr("stroke-width", 0.9)
    g.selectAll("line.majY").data(yTicks[i]).join("line").attr("class", "majY")
        .attr("x1", left).attr("x2", right).attr("y1", d => y(d)).attr("y2", d => y(d))
        .attr("stroke", "#ebebeb").attr("stroke-width", 1.8)
    g.selectAll("line.majX").data(majeursX).join("line").attr("class", "majX")
        .attr("x1", d => x(d)).attr("x2", d => x(d)).attr("y1", haut).attr("y2", bas)
        .attr("stroke", "#ebebeb").attr("stroke-width", 1.8)

    // séries
    const ligne = d3.line().x(p => x(jour(p[0]))).y(p => y(p[1]))
    const s = panneaux[i]
    const ordre = [
        {d: s.vert, c: couleurs.vert, dash: null},
        {d: s.rouge, c: couleurs.rouge, dash: null},
        {d: s.noir, c: couleurs.noir, dash: null},
        {d: s.tirets, c: couleurs.noir, dash: "5,4"},
        {d: s.bleu, c: couleurs.bleu, dash: null}
    ]
    ordre.forEach(o => {
        g.append("path").datum(o.d).attr("d", ligne)
            .attr("fill", "none").attr("stroke", o.c).attr("stroke-width", 1.5)
            .attr("stroke-linejoin", "round").attr("stroke-dasharray", o.dash)
    })

    // cadre
    g.append("rect").attr("x", left).attr("y", haut).attr("width", right - left).attr("height", hauteurPanneau)
        .attr("fill", "none").attr("stroke", "#333").attr("stroke-width", 1.5)

    // axe y
    const axeY = g.append("g").attr("transform", `translate(${left},0)`)
        .call(d3.axisLeft(y).tickValues(yTicks[i]).tickSize(6).tickPadding(4))
    axeY.attr("font-size", 24).attr("font-family", "Liberation Sans, Arial, sans-serif")
    axeY.select(".domain").remove()
    axeY.selectAll(".tick line").attr("stroke", "#333").attr("stroke-width", 1.4)
    axeY.selectAll(".tick text").attr("fill", "#4d4d4d")

    // bandeau
    g.append("rect").attr("x", 1454.5).attr("y", haut).attr("width", 34.5).attr("height", hauteurPanneau)
        .attr("fill", "#fff").attr("stroke", "#333").attr("stroke-width", 1.5)
    g.append("text").text(nom)
        .attr("transform", `translate(${1471.75},${haut + hauteurPanneau / 2}) rotate(90)`)
        .attr("text-anchor", "middle").attr("dominant-baseline", "central")
        .attr("font-family", "DejaVu Sans, sans-serif").attr("font-size", stripTaille[i])
        .attr("textLength", stripLong[i]).attr("lengthAdjust", "spacingAndGlyphs")
        .attr("fill", "#1a1a1a")

    // axe x sur le dernier panneau
    if (i === facettes.length - 1) {
        const axeX = g.append("g").attr("transform", `translate(0,${bas})`)
            .call(d3.axisBottom(x).tickValues(majeursX).tickFormat(d3.utcFormat("%Y-%b")).tickSize(6).tickPadding(3))
        axeX.attr("font-size", 25).attr("font-family", "Liberation Sans, Arial, sans-serif")
        axeX.select(".domain").remove()
        axeX.selectAll(".tick line").attr("stroke", "#333").attr("stroke-width", 1.4)
        axeX.selectAll(".tick text").attr("fill", "#4d4d4d")
    }
})

// titres des axes
svg.append("text").text("Date")
    .attr("x", (left + right) / 2).attr("y", 1806)
    .attr("text-anchor", "middle").attr("font-size", 24.5).attr("fill", "#000")
svg.append("text").text("mm, mm/jour et %")
    .attr("transform", `translate(29,${top0 + (8 * pasPanneau + hauteurPanneau) / 2}) rotate(-90)`)
    .attr("text-anchor", "middle").attr("font-size", 24.5).attr("fill", "#000")
</script>
</body>
</html>
